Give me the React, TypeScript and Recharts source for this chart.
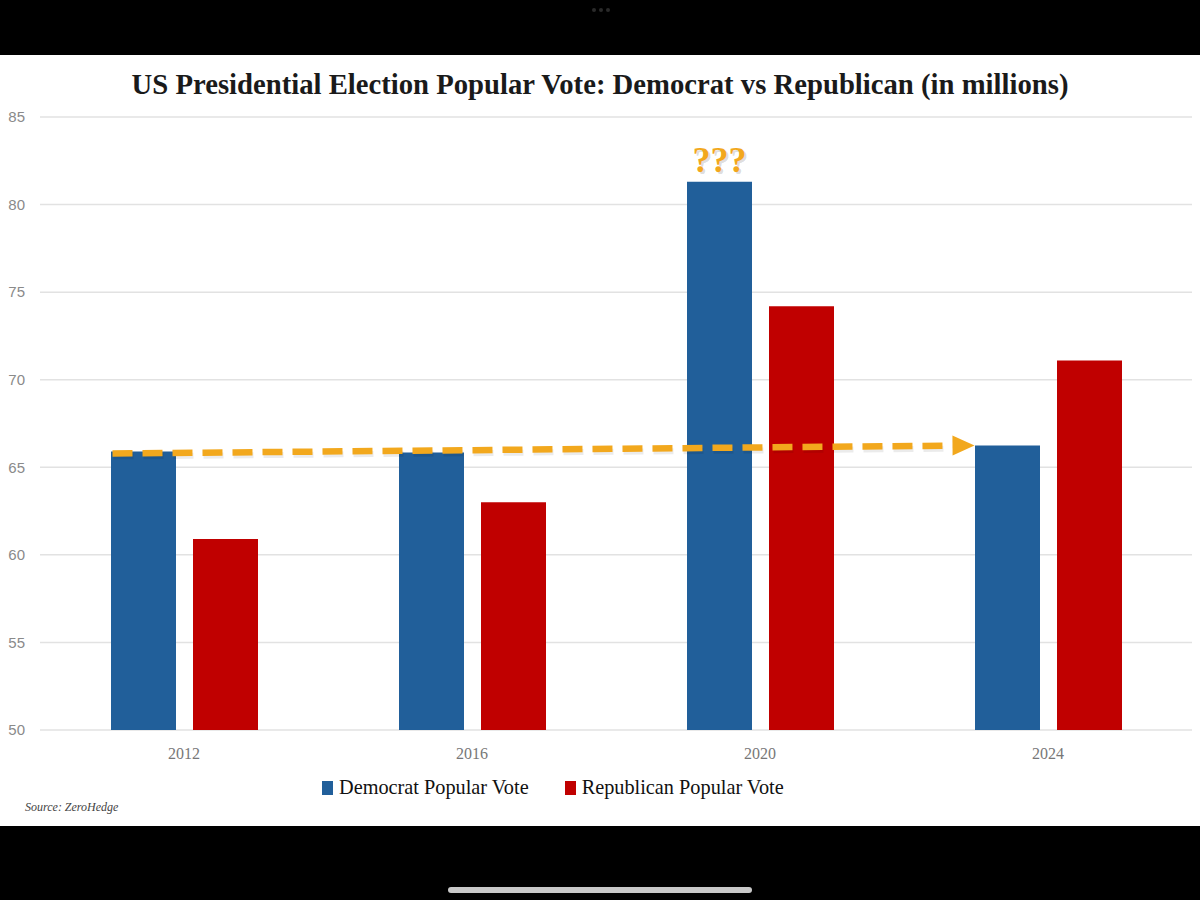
import React from "react";
import { BarChart, Bar, XAxis, YAxis, CartesianGrid, ReferenceLine } from "recharts";

const YEARS = ["2012", "2016", "2020", "2024"];
const DEM = [65.9, 65.85, 81.3, 66.25];
const REP = [60.9, 63.0, 74.2, 71.1];
const Y_TICKS = [50, 55, 60, 65, 70, 75, 80, 85];
const FLAG_YEAR = "2020";

const BLUE = "#215f9a";
const RED = "#c00000";
const ORANGE = "#f2a81d";
const SERIF = "'Liberation Serif', 'DejaVu Serif', serif";

const data = YEARS.map((year, i) => ({ year, dem: DEM[i], rep: REP[i] }));

// half the width of a bar group (2 bars + gap) -> left edge of the Dem bar
const GROUP_HALF = (65 + 17 + 65) / 2;

function DashedArrow(props: any) {
  const x1 = props.x1 - GROUP_HALF + 2;
  const x2 = props.x2 - GROUP_HALF;
  const y1 = props.y1 + 2;
  const y2 = props.y2;
  const ang = Math.atan2(y2 - y1, x2 - x1);
  const len = 22;
  const w = 10;
  const bx = x2 - len * Math.cos(ang);
  const by = y2 - len * Math.sin(ang);
  const nx = -Math.sin(ang) * w;
  const ny = Math.cos(ang) * w;
  return (
    <g>
      <line
        x1={x1 + 1}
        y1={y1 + 3}
        x2={bx + 1}
        y2={by + 3}
        stroke="rgba(0,0,0,0.08)"
        strokeWidth={6}
        strokeDasharray="20 10"
      />
      <line x1={x1} y1={y1} x2={bx} y2={by} stroke={ORANGE} strokeWidth={6.5} strokeDasharray="20 10" />
      <polygon points={`${x2},${y2} ${bx + nx},${by + ny} ${bx - nx},${by - ny}`} fill={ORANGE} />
    </g>
  );
}

function QuestionMarks(props: any) {
  const { x, y, width, index } = props;
  if (YEARS[index] !== FLAG_YEAR) return null;
  return (
    <g>
      <text
        x={x + width / 2 + 2}
        y={y - 10 + 2}
        textAnchor="middle"
        fontFamily={SERIF}
        fontWeight="bold"
        fontSize={36}
        fill="rgba(0,0,0,0.15)"
      >
        ???
      </text>
      <text
        x={x + width / 2}
        y={y - 10}
        textAnchor="middle"
        fontFamily={SERIF}
        fontWeight="bold"
        fontSize={36}
        fill={ORANGE}
      >
        ???
      </text>
    </g>
  );
}

function LegendItem({ color, label }: { color: string; label: string }) {
  return (
    <span style={{ display: "inline-flex", alignItems: "center", marginRight: 36 }}>
      <span style={{ width: 11, height: 14, background: color, marginRight: 6, display: "inline-block" }} />
      <span>{label}</span>
    </span>
  );
}

export default function App() {
  return (
    <div
      style={{
        position: "absolute",
        left: 0,
        top: 0,
        width: 1200,
        height: 900,
        background: "#000",
        overflow: "hidden",
      }}
    >
      <div style={{ position: "absolute", left: 592, top: 8, display: "flex", gap: 3 }}>
        {[0, 1, 2].map((d) => (
          <span key={d} style={{ width: 4, height: 4, borderRadius: 2, background: "#2a2a2a" }} />
        ))}
      </div>
      <div
        style={{
          position: "absolute",
          left: 0,
          top: 55,
          width: 1200,
          height: 771,
          background: "#fff",
        }}
      >
        <div
          style={{
            position: "absolute",
            top: 13,
            left: 0,
            width: 1200,
            textAlign: "center",
            fontFamily: SERIF,
            fontWeight: "bold",
            fontSize: 28.7,
            color: "#1a1a1a",
          }}
        >
          US Presidential Election Popular Vote: Democrat vs Republican (in millions)
        </div>
        <BarChart
          width={1200}
          height={771}
          data={data}
          margin={{ top: 62, right: 8, left: 0, bottom: 66 }}
          barSize={65}
          barGap={17}
        >
          <CartesianGrid vertical={false} stroke="#e2e2e2" strokeWidth={1.5} />
          <XAxis
            dataKey="year"
            axisLine={false}
            tickLine={false}
            tickSize={0}
            tickMargin={18}
            tick={{ fontFamily: SERIF, fontSize: 16, fill: "#777" }}
          />
          <YAxis
            domain={[50, 85]}
            ticks={Y_TICKS}
            width={40}
            axisLine={false}
            tickLine={false}
            tickSize={0}
            tickMargin={15}
            interval={0}
            tick={{ fontFamily: "'Liberation Sans', Arial, sans-serif", fontSize: 15, fill: "#8a8a8a" }}
          />
          <Bar
            dataKey="dem"
            name="Democrat Popular Vote"
            fill={BLUE}
            isAnimationActive={false}
            label={<QuestionMarks />}
          />
          <Bar dataKey="rep" name="Republican Popular Vote" fill={RED} isAnimationActive={false} />
          <ReferenceLine
            segment={[
              { x: YEARS[0], y: DEM[0] },
              { x: YEARS[YEARS.length - 1], y: DEM[DEM.length - 1] },
            ]}
            shape={(p: any) => <DashedArrow {...p} />}
            ifOverflow="visible"
          />
        </BarChart>
        <div
          style={{
            position: "absolute",
            left: 322,
            top: 721,
            fontFamily: SERIF,
            fontSize: 20.3,
            color: "#111",
            whiteSpace: "nowrap",
          }}
        >
          <LegendItem color={BLUE} label="Democrat Popular Vote" />
          <LegendItem color={RED} label="Republican Popular Vote" />
        </div>
        <div
          style={{
            position: "absolute",
            left: 25,
            top: 745,
            fontFamily: SERIF,
            fontStyle: "italic",
            fontSize: 12,
            color: "#444",
          }}
        >
          Source: ZeroHedge
        </div>
      </div>
      <div
        style={{
          position: "absolute",
          left: 448,
          top: 887,
          width: 304,
          height: 6,
          borderRadius: 3,
          background: "#c8c8c8",
        }}
      />
    </div>
  );
}
